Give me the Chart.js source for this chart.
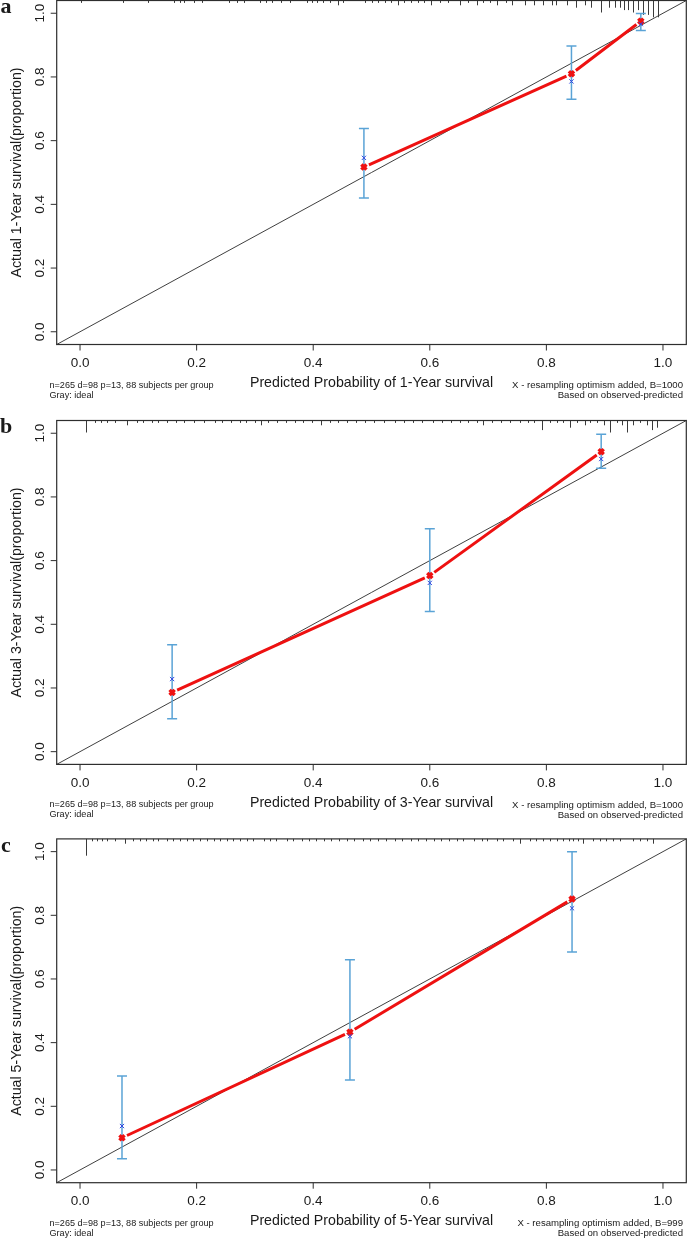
<!DOCTYPE html>
<html>
<head>
<meta charset="utf-8">
<script src="https://cdn.jsdelivr.net/npm/chart.js@4.4.1/dist/chart.umd.min.js"></script>
<style>
html, body { margin: 0; padding: 0; background: #ffffff; }
#wrap { position: relative; width: 687px; height: 1240px; overflow: hidden; background: #fff; }
#wrap canvas { position: absolute; left: 0; }
</style>
</head>
<body>
<div id="wrap">
  <canvas id="ca" width="687" height="413" style="top:0px"></canvas>
  <canvas id="cb" width="687" height="418" style="top:413px"></canvas>
  <canvas id="cc" width="687" height="409" style="top:831px"></canvas>
</div>
<script>
// ---------------- data ----------------
const tickValues = [0, 0.2, 0.4, 0.6, 0.8, 1.0];
const tickLabels = ['0.0', '0.2', '0.4', '0.6', '0.8', '1.0'];
const axisMin = -0.04;
const axisMax = 1.04;

const panelLetters = ['a', 'b', 'c'];
const yTitles = ['Actual 1-Year survival(proportion)', 'Actual 3-Year survival(proportion)', 'Actual 5-Year survival(proportion)'];
const xTitles = ['Predicted Probability of 1-Year survival', 'Predicted Probability of 3-Year survival', 'Predicted Probability of 5-Year survival'];
const notesLeft = ['n=265 d=98 p=13, 88 subjects per group', 'Gray: ideal'];
const notesRightTop = ['X - resampling optimism added, B=1000', 'X - resampling optimism added, B=1000', 'X - resampling optimism added, B=999'];
const noteRightBottom = 'Based on observed-predicted';

// Panel a: 1-year
const predA = [0.487, 0.843, 0.962];
const obsA  = [0.517, 0.810, 0.975];
const corrA = [0.546, 0.786, 0.966];
const loA   = [0.420, 0.730, 0.946];
const hiA   = [0.638, 0.897, 0.999];

// Panel b: 3-year
const predB = [0.158, 0.600, 0.894];
const obsB  = [0.186, 0.553, 0.942];
const corrB = [0.228, 0.530, 0.919];
const loB   = [0.103, 0.440, 0.890];
const hiB   = [0.336, 0.700, 0.997];

// Panel c: 5-year
const predC = [0.072, 0.463, 0.844];
const obsC  = [0.101, 0.433, 0.851];
const corrC = [0.138, 0.420, 0.822];
const loC   = [0.035, 0.283, 0.685];
const hiC   = [0.295, 0.660, 1.000];

// Rug of predicted probabilities (position, relative frequency)
const rugXA = [0.002, 0.074, 0.116, 0.161, 0.172, 0.179, 0.195, 0.210, 0.255, 0.270, 0.281, 0.308, 0.319, 0.330, 0.345, 0.360, 0.390, 0.398, 0.406, 0.417, 0.428, 0.443, 0.451, 0.489, 0.500, 0.511, 0.523, 0.534, 0.545, 0.556, 0.568, 0.579, 0.590, 0.602, 0.617, 0.632, 0.651, 0.666, 0.681, 0.692, 0.704, 0.715, 0.730, 0.741, 0.764, 0.779, 0.794, 0.809, 0.817, 0.835, 0.850, 0.866, 0.877, 0.893, 0.907, 0.918, 0.926, 0.933, 0.940, 0.949, 0.957, 0.966, 0.974, 0.983, 0.991];
const rugNA = [1, 1, 1, 1, 1, 1, 1, 1, 1, 1, 1, 1, 1, 1, 1, 1, 1, 1, 1, 1, 1, 2, 1, 1, 1, 1, 1, 1, 2, 1, 1, 1, 1, 2, 1, 1, 2, 1, 2, 1, 1, 2, 1, 2, 2, 2, 2, 2, 2, 2, 3, 2, 3, 5, 3, 3, 3, 4, 4, 5, 4, 6, 6, 7, 7];

const rugXB = [0.010, 0.025, 0.036, 0.047, 0.060, 0.081, 0.097, 0.108, 0.123, 0.134, 0.149, 0.164, 0.179, 0.195, 0.213, 0.232, 0.244, 0.259, 0.274, 0.285, 0.300, 0.311, 0.323, 0.338, 0.353, 0.368, 0.383, 0.398, 0.413, 0.428, 0.443, 0.458, 0.473, 0.489, 0.504, 0.522, 0.541, 0.556, 0.571, 0.587, 0.605, 0.621, 0.636, 0.651, 0.666, 0.681, 0.692, 0.707, 0.722, 0.737, 0.755, 0.769, 0.778, 0.792, 0.806, 0.818, 0.829, 0.840, 0.852, 0.866, 0.875, 0.886, 0.898, 0.909, 0.921, 0.929, 0.938, 0.949, 0.961, 0.972, 0.981, 0.989];
const rugNB = [5, 1, 1, 1, 1, 2, 1, 1, 1, 1, 1, 1, 1, 1, 1, 1, 1, 1, 1, 1, 1, 2, 1, 1, 1, 1, 1, 1, 2, 1, 1, 1, 1, 1, 1, 1, 1, 1, 1, 1, 1, 1, 1, 1, 1, 1, 2, 1, 1, 1, 1, 1, 1, 4, 1, 1, 1, 3, 1, 2, 1, 1, 2, 5, 1, 2, 5, 2, 1, 2, 4, 3];

const rugXC = [0.010, 0.020, 0.029, 0.037, 0.046, 0.060, 0.077, 0.091, 0.103, 0.114, 0.126, 0.134, 0.149, 0.160, 0.172, 0.183, 0.194, 0.206, 0.217, 0.229, 0.240, 0.252, 0.263, 0.274, 0.286, 0.297, 0.315, 0.326, 0.337, 0.355, 0.366, 0.380, 0.392, 0.405, 0.418, 0.430, 0.445, 0.458, 0.470, 0.485, 0.498, 0.512, 0.525, 0.540, 0.553, 0.567, 0.580, 0.594, 0.607, 0.620, 0.633, 0.646, 0.657, 0.675, 0.689, 0.698, 0.715, 0.726, 0.743, 0.755, 0.772, 0.783, 0.795, 0.806, 0.818, 0.829, 0.838, 0.846, 0.855, 0.863, 0.880, 0.892, 0.903, 0.915, 0.926, 0.949, 0.961, 0.972, 0.983];
const rugNC = [7, 1, 1, 1, 1, 1, 2, 1, 1, 1, 1, 1, 1, 1, 1, 1, 1, 1, 1, 1, 1, 1, 1, 1, 1, 1, 1, 1, 1, 1, 1, 1, 1, 1, 1, 1, 1, 1, 1, 1, 1, 1, 1, 1, 1, 1, 1, 1, 1, 1, 1, 1, 1, 1, 1, 1, 1, 1, 1, 2, 1, 1, 1, 1, 1, 1, 1, 1, 1, 2, 1, 1, 1, 1, 1, 1, 1, 1, 2];

// ---------------- styling ----------------
const COL_AXIS = '#2e2e2e';
const COL_TEXT = '#1a1a1a';
const COL_RED = '#ee1111';
const COL_BAR = '#5aa3d6';
const COL_BLUE = '#2f45e0';
const FONT_SANS = '"Liberation Sans", Arial, sans-serif';
const FONT_SERIF = '"Liberation Serif", "Times New Roman", serif';

const panelSetup = [
  { id: 'ca', pad: { top: 0.5, bottom: 68.5 }, pred: predA, obs: obsA, corr: corrA, lo: loA, hi: hiA, rugX: rugXA, rugN: rugNA },
  { id: 'cb', pad: { top: 7.5, bottom: 66.6 }, pred: predB, obs: obsB, corr: corrB, lo: loB, hi: hiB, rugX: rugXB, rugN: rugNB },
  { id: 'cc', pad: { top: 7.9, bottom: 57.3 }, pred: predC, obs: obsC, corr: corrC, lo: loC, hi: hiC, rugX: rugXC, rugN: rugNC }
];

function decorPlugin(i, p) {
  return {
    id: 'decor' + i,
    beforeDatasetsDraw(chart) {
      const ctx = chart.ctx, a = chart.chartArea, x = chart.scales.x, y = chart.scales.y;
      ctx.save();
      // ideal line (y = x) across the whole plotting region
      ctx.strokeStyle = '#2a2a2a';
      ctx.lineWidth = 0.9;
      ctx.beginPath();
      ctx.moveTo(x.getPixelForValue(x.min), y.getPixelForValue(y.min));
      ctx.lineTo(x.getPixelForValue(x.max), y.getPixelForValue(y.max));
      ctx.stroke();
      // rug along top
      ctx.strokeStyle = '#3a3a3a';
      ctx.lineWidth = 1;
      ctx.beginPath();
      p.rugX.forEach((v, k) => {
        const px = Math.round(x.getPixelForValue(v)) + 0.5;
        ctx.moveTo(px, a.top);
        ctx.lineTo(px, a.top + 2.4 * p.rugN[k]);
      });
      ctx.stroke();
      ctx.restore();
    },
    afterDatasetsDraw(chart) {
      const ctx = chart.ctx, a = chart.chartArea, x = chart.scales.x, y = chart.scales.y;
      ctx.save();
      // connecting line of observed points, R type="b" style (gap round each point)
      ctx.strokeStyle = COL_RED;
      ctx.lineWidth = 3;
      ctx.lineCap = 'butt';
      ctx.beginPath();
      for (let k = 0; k < p.pred.length - 1; k++) {
        const x0 = x.getPixelForValue(p.pred[k]), y0 = y.getPixelForValue(p.obs[k]);
        const x1 = x.getPixelForValue(p.pred[k + 1]), y1 = y.getPixelForValue(p.obs[k + 1]);
        const len = Math.hypot(x1 - x0, y1 - y0), g = 5.5;
        if (len > 2 * g) {
          const ux = (x1 - x0) / len, uy = (y1 - y0) / len;
          ctx.moveTo(x0 + ux * g, y0 + uy * g);
          ctx.lineTo(x1 - ux * g, y1 - uy * g);
        }
      }
      ctx.stroke();
      ctx.restore();

      ctx.save();
      // box
      ctx.strokeStyle = COL_AXIS;
      ctx.lineWidth = 1.2;
      ctx.strokeRect(a.left, a.top, a.right - a.left, a.bottom - a.top);
      // ticks
      ctx.lineWidth = 1;
      ctx.beginPath();
      tickValues.forEach(v => {
        const px = x.getPixelForValue(v);
        ctx.moveTo(px, a.bottom); ctx.lineTo(px, a.bottom + 6);
        const py = y.getPixelForValue(v);
        ctx.moveTo(a.left, py); ctx.lineTo(a.left - 6, py);
      });
      ctx.stroke();
      // tick labels
      ctx.fillStyle = COL_TEXT;
      ctx.font = '13.5px ' + FONT_SANS;
      ctx.textAlign = 'center';
      ctx.textBaseline = 'middle';
      tickValues.forEach((v, k) => {
        ctx.fillText(tickLabels[k], x.getPixelForValue(v), a.bottom + 18.5);
        ctx.save();
        ctx.translate(40, y.getPixelForValue(v));
        ctx.rotate(-Math.PI / 2);
        ctx.fillText(tickLabels[k], 0, 0);
        ctx.restore();
      });
      // axis titles
      ctx.font = '14.2px ' + FONT_SANS;
      ctx.fillText(xTitles[i], (a.left + a.right) / 2, a.bottom + 38.5);
      ctx.save();
      ctx.translate(17.5, (a.top + a.bottom) / 2);
      ctx.rotate(-Math.PI / 2);
      ctx.fillText(yTitles[i], 0, 0);
      ctx.restore();
      // notes
      ctx.font = '9.1px ' + FONT_SANS;
      ctx.textAlign = 'left';
      ctx.fillText(notesLeft[0], 49.5, a.bottom + 40.5);
      ctx.fillText(notesLeft[1], 49.5, a.bottom + 50.5);
      ctx.font = '9.6px ' + FONT_SANS;
      ctx.textAlign = 'right';
      ctx.fillText(notesRightTop[i], 683, a.bottom + 40.5);
      ctx.fillText(noteRightBottom, 683, a.bottom + 50.5);
      // panel letter
      ctx.font = 'bold 22px ' + FONT_SERIF;
      ctx.textAlign = 'center';
      ctx.fillText(panelLetters[i], 6, a.top + 7);
      ctx.restore();
    }
  };
}

panelSetup.forEach((p, i) => {
  const datasets = [];
  // error bars with caps
  p.pred.forEach((px, k) => {
    datasets.push({
      type: 'line',
      data: [{ x: px, y: p.lo[k] }, { x: px, y: p.hi[k] }],
      borderColor: COL_BAR,
      borderWidth: 1.5,
      pointStyle: 'line',
      pointRadius: 5,
      pointBorderWidth: 1.5,
      pointBorderColor: COL_BAR,
      showLine: true,
      order: 3
    });
  });
  // observed (apparent) calibration points, red
  datasets.push({
    type: 'scatter',
    data: p.pred.map((px, k) => ({ x: px, y: p.obs[k] })),
    borderColor: COL_RED,
    pointStyle: 'crossRot',
    pointRadius: 3.6,
    pointBorderWidth: 3.4,
    pointBorderColor: COL_RED,
    pointBackgroundColor: COL_RED,
    showLine: false,
    order: 2
  });
  // bias-corrected, blue x
  datasets.push({
    type: 'scatter',
    data: p.pred.map((px, k) => ({ x: px, y: p.corr[k] })),
    borderColor: COL_BLUE,
    pointStyle: 'crossRot',
    pointRadius: 3,
    pointBorderWidth: 1,
    pointBorderColor: COL_BLUE,
    showLine: false,
    order: 1
  });

  new Chart(document.getElementById(p.id), {
    type: 'scatter',
    data: { datasets },
    options: {
      responsive: false,
      animation: false,
      devicePixelRatio: 1,
      layout: { autoPadding: false, padding: { left: 56.7, right: 0.7, top: p.pad.top, bottom: p.pad.bottom } },
      plugins: { legend: { display: false }, tooltip: { enabled: false } },
      scales: {
        x: { type: 'linear', min: axisMin, max: axisMax, display: false },
        y: { type: 'linear', min: axisMin, max: axisMax, display: false }
      },
      elements: { line: { tension: 0 } }
    },
    plugins: [decorPlugin(i, p)]
  });
});
</script>
</body>
</html>
